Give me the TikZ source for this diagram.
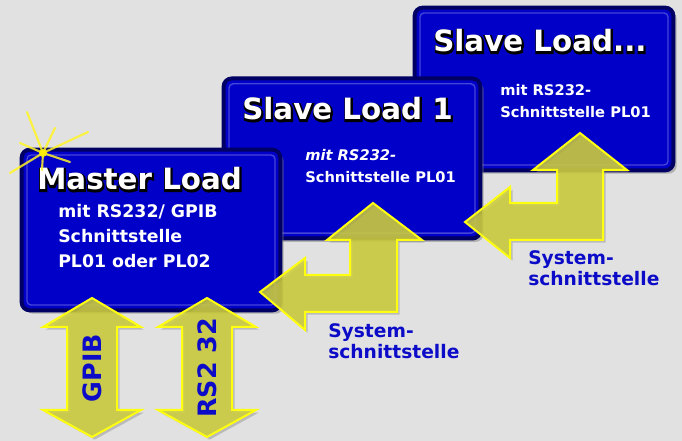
\documentclass[tikz,border=0pt]{standalone}
\usepackage{fontspec}
\setmainfont{DejaVu Sans}
\usetikzlibrary{shadows}

\definecolor{bggray}{HTML}{E1E1E1}
\definecolor{loadblue}{HTML}{0000C8}
\definecolor{loadnavy}{HTML}{000064}
\definecolor{loadedge}{HTML}{4646D8}
\definecolor{arrowfill}{HTML}{CDCD3A}
\definecolor{arrowedge}{HTML}{FFFF10}
\definecolor{noteblue}{HTML}{0C0CC8}

% white letters on a fat dark copy of themselves
\newcommand{\rimmed}[1]{\makebox[0pt][l]{\kern0.5pt\raisebox{-0.5pt}{\textcolor{black}{\special{pdf:literal direct 2 Tr 2.2 w}#1\special{pdf:literal direct 0 Tr 0.4 w}}}}#1}

\begin{document}
\begin{tikzpicture}[x=0.75pt,y=-0.75pt]
	\tikzstyle{load}=[rectangle, rounded corners=6pt, fill=loadblue, draw=loadnavy, line width=3pt, drop shadow={shadow xshift=2.5pt, shadow yshift=-2.5pt, fill=black!50, opacity=0.5}]
	\tikzstyle{load inner}=[rectangle, rounded corners=3pt, draw=loadedge, line width=1pt]
	\tikzstyle{titlefont}=[anchor=base west, inner sep=0pt, text=white, font=\bfseries\fontsize{22pt}{26pt}\selectfont]
	\tikzstyle{loadtext}=[anchor=north west, inner sep=0pt, align=left, text=white, font=\bfseries\fontsize{11pt}{16.5pt}\selectfont]
	\tikzstyle{bus arrow}=[fill=arrowfill, fill opacity=0.85, draw=arrowedge, line width=1.5pt, line join=miter, drop shadow={shadow xshift=2pt, shadow yshift=-2pt, fill=black!45, opacity=0.45}]
	\tikzstyle{bus text}=[rotate=90, inner sep=0pt, text=noteblue, font=\bfseries\fontsize{19pt}{22pt}\selectfont]
	\tikzstyle{sysnote}=[anchor=north west, inner sep=0pt, align=left, text=noteblue, font=\bfseries\fontsize{14pt}{15.75pt}\selectfont]
	\tikzstyle{spark}=[draw=yellow!85!white, line width=1.6pt, line cap=round, opacity=0.85]

	\fill[bggray] (0,0) rectangle (682,441);
	\useasboundingbox (0,0) rectangle (682,441);

	% last slave
	\node[load, minimum width=194pt, minimum height=122pt] (slaveN) at (544,89) {};
	\node[load inner, minimum width=186pt, minimum height=114pt] (slaveN inner) at (544,89) {};
	\node[titlefont] (slaveN title) at (433,52) {\rimmed{Slave Load...}};
	\node[loadtext] (slaveN text) at (500,84) {mit RS232-\\Schnittstelle PL01};

	% first slave
	\node[load, minimum width=192.5pt, minimum height=120pt] (slave1) at (352,158.5) {};
	\node[load inner, minimum width=184.5pt, minimum height=112pt] (slave1 inner) at (352,158.5) {};
	\node[titlefont] (slave1 title) at (242,120) {\rimmed{Slave Load 1}};
	\node[loadtext] (slave1 text) at (305,149) {\textit{mit RS232-}\\Schnittstelle PL01};

	% system link slave 1 <-> slave ...
	\filldraw[bus arrow] (580,133) -- (627,170) -- (603,170) -- (603,240) -- (510,240) -- (510,258)
		-- (465,222) -- (510,187) -- (510,203) -- (557,203) -- (557,170) -- (533,170) -- cycle;
	\node[sysnote] (sys2) at (528,250) {System-\\schnittstelle};

	% master
	\node[load, minimum width=194pt, minimum height=120.5pt] (master) at (151,230) {};
	\node[load inner, minimum width=186pt, minimum height=112.5pt] (master inner) at (151,230) {};
	\node[titlefont] (master title) at (37,190) {\rimmed{Master Load}};
	\node[loadtext, font=\bfseries\fontsize{13pt}{18.75pt}\selectfont] (master text) at (58,204)
		{mit RS232/ GPIB\\Schnittstelle\\PL01 oder PL02};

	% system link master <-> slave 1
	\filldraw[bus arrow] (373,203) -- (422,240) -- (397,240) -- (397,312) -- (305,312) -- (305,330)
		-- (260,292) -- (305,258) -- (305,275) -- (350,275) -- (350,240) -- (327,240) -- cycle;
	\node[sysnote] (sys1) at (328,323) {System-\\schnittstelle};

	% host interfaces
	\foreach \x/\name/\bus in {92/gpib/GPIB, 207/rs/RS2 32}
	{
		\filldraw[bus arrow, xshift=\x*0.75pt] (0,298) -- (49,327) -- (25,327) -- (25,410) -- (49,410)
			-- (0,437) -- (-49,410) -- (-25,410) -- (-25,327) -- (-49,327) -- cycle;
		\node[bus text] (\name) at (\x,368) {\bus};
	}

	% spark on the master
	\coordinate (spark) at (43,153);
	\foreach \tx/\ty in {27/112, 55/128, 88/132, 20/143, 10/173, 42/170, 70/162}
		\draw[spark] (spark) -- (\tx,\ty);
	\fill[yellow, opacity=0.9] (spark) circle (3pt);
\end{tikzpicture}
\end{document}
